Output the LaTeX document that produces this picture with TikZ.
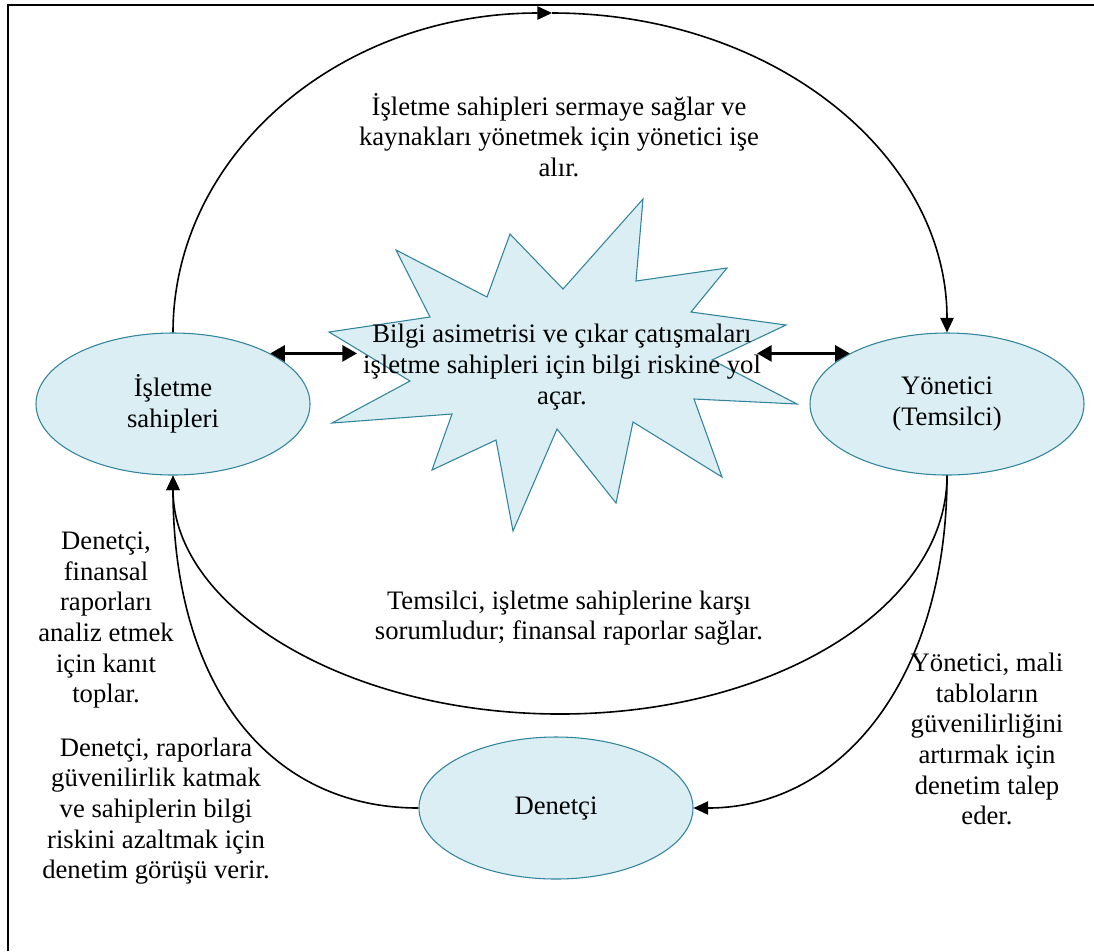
\documentclass[tikz,border=0pt]{standalone}
\usepackage{fontspec}
\setmainfont{Liberation Serif}
\usetikzlibrary{arrows.meta,shapes.geometric}
\definecolor{burstfill}{HTML}{DAEEF3}
\definecolor{burstline}{HTML}{31849B}
\newcommand\txtsize{\fontsize{20pt}{23pt}\selectfont}
\tikzset{
  party/.style={ellipse, draw=burstline, fill=burstfill, line width=0.8pt,
    minimum width=205.5pt, minimum height=106.5pt, inner sep=0pt,
    align=center, font=\txtsize},
  note/.style={align=center, inner sep=0pt, font=\txtsize},
  burst/.style={draw=burstline, fill=burstfill, line width=0.8pt, line join=miter},
  link/.style={line width=1.2pt, -{Triangle[length=11pt,width=10pt]}},
  both/.style={line width=2.2pt,
    {Triangle[length=11pt,width=12pt]}-{Triangle[length=11pt,width=12pt]}},
  frame/.style={line width=1.5pt}
}
\begin{document}
\begin{tikzpicture}[x=0.75pt,y=-0.75pt]
			\useasboundingbox (0,0) rectangle (1094,951);
			\draw[frame] (8,951) -- (8,4.5) -- (1094,4.5);
			% The three parties.
			\node[party] (own) at (173,404) {İşletme\\sahipleri};
			\node[party] (mgr) at (947,404) {Yönetici\\(Temsilci)};
			\node[party] (aud) at (556,808) {Denetçi};
			% Explosion in the middle.
			\draw[burst] (643,199) -- (636,281) -- (727,268) -- (691,312) -- (786,325)
				-- (712,360) -- (797,404) -- (694,399) -- (722,477) -- (633,422)
				-- (616,503) -- (557,429) -- (513,531) -- (496,440) -- (432,470)
				-- (452,414) -- (332,423) -- (410,381) -- (329,332) -- (430,317)
				-- (396,250) -- (487,297) -- (510,234) -- (563,289) -- cycle;
			\node[note] (risk) at (562,367) {Bilgi asimetrisi ve çıkar çatışmaları\\işletme sahipleri için bilgi riskine yol\\açar.};
			\coordinate (top) at (552,13);
			\coordinate (bot) at (560,714);
			\coordinate (burstL) at (357,0 |- own.north east);
			\coordinate (burstR) at (757,0 |- mgr.north west);
			% Connectors.
			\draw[link] (own.north) .. controls +(0,-177) and +(-214,0) .. (top);
			\draw[link] (top) .. controls +(222,0) and +(0,-177) .. (mgr.north);
			\draw[link] (mgr.south) .. controls +(0,132) and +(214,0) .. (bot)
				.. controls +(-214,0) and +(0,132) .. (own.south);
			\draw[link] (aud.west) .. controls +(-150,0) and +(0,210) .. (own.south);
			\draw[link] (mgr.south) .. controls +(0,200) and +(150,0) .. (aud.east);
			\draw[both] (own.north east) -- (burstL);
			\draw[both] (burstR) -- (mgr.north west);
			% Labels.
			\node[note] (hire) at (559,135) {İşletme sahipleri sermaye sağlar ve\\kaynakları yönetmek için yönetici işe\\alır.};
			\node[note] (report) at (569,618) {Temsilci, işletme sahiplerine karşı\\sorumludur; finansal raporlar sağlar.};
			\node[note] (evid) at (106,620) {Denetçi,\\finansal\\raporları\\analiz etmek\\için kanıt\\toplar.};
			\node[note] (opin) at (156,811) {Denetçi, raporlara\\güvenilirlik katmak\\ve sahiplerin bilgi\\riskini azaltmak için\\denetim görüşü verir.};
			\node[note] (req) at (987,739) {Yönetici, mali\\tabloların\\güvenilirliğini\\artırmak için\\denetim talep\\eder.};
		\end{tikzpicture}
\end{document}
